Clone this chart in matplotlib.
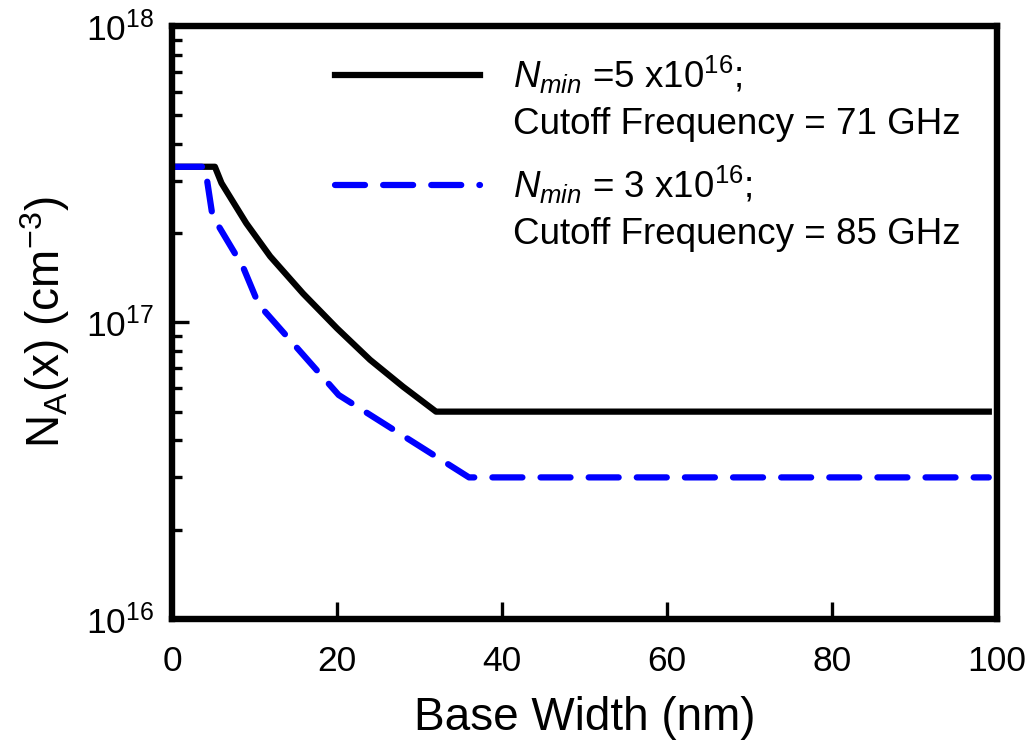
import matplotlib
matplotlib.use('Agg')
import matplotlib.pyplot as plt
from matplotlib.lines import Line2D
from matplotlib.ticker import FixedLocator, LogLocator, NullFormatter, NullLocator

# Doping profiles
x_nmin5 = [0, 5.2, 6.0, 9.0, 11.9, 15.9, 20.0, 24.0, 28.0, 32.0, 99]
na_nmin5 = [3.35e17, 3.35e17, 2.95e17, 2.16e17, 1.67e17, 1.25e17, 9.55e16, 7.48e16, 6.07e16, 5.0e16, 5.0e16]

x_nmin3 = [0, 4.0, 4.9, 8.6, 10.5, 20.2, 36.0, 99]
na_nmin3 = [3.35e17, 3.35e17, 2.29e17, 1.54e17, 1.15e17, 5.69e16, 3.0e16, 3.0e16]

label_nmin5 = [r'$N_{min}$ =5 x10$^{16}$;', 'Cutoff Frequency = 71 GHz']
label_nmin3 = [r'$N_{min}$ = 3 x10$^{16}$;', 'Cutoff Frequency = 85 GHz']

plt.rcParams['font.family'] = ['Liberation Sans', 'DejaVu Sans']
plt.rcParams['mathtext.fontset'] = 'custom'
plt.rcParams['mathtext.rm'] = 'Liberation Sans'
plt.rcParams['mathtext.it'] = 'Liberation Sans:italic'

fig = plt.figure(figsize=(10.3, 7.42), dpi=100)
ax = fig.add_axes([0.167, 0.166, 0.801, 0.799])

blk, = ax.plot(x_nmin5, na_nmin5, color='black', lw=4.5)
blu, = ax.plot(x_nmin3, na_nmin3, color='#0000ff', lw=4.5, dashes=(4.8, 2.9),
               dash_capstyle='round')

ax.set_yscale('log')
ax.set_xlim(0, 100)
ax.set_ylim(1e16, 1e18)

ax.xaxis.set_major_locator(FixedLocator([0, 20, 40, 60, 80, 100]))
ax.xaxis.set_minor_locator(NullLocator())
ax.yaxis.set_major_locator(FixedLocator([1e16, 1e17, 1e18]))
ax.yaxis.set_minor_locator(LogLocator(base=10, subs=range(2, 10)))
ax.yaxis.set_minor_formatter(NullFormatter())
ax.set_yticklabels([r'10$^{16}$', r'10$^{17}$', r'10$^{18}$'])

ax.tick_params(axis='x', which='major', direction='in', length=12.5, width=2.4,
               labelsize=25.5, pad=19, top=False)
ax.tick_params(axis='y', which='major', direction='in', length=12.5, width=2.4,
               labelsize=25.5, pad=13, right=False)
ax.tick_params(axis='y', which='minor', direction='in', length=7, width=2.4,
               right=False)

for s in ax.spines.values():
    s.set_linewidth(4.6)

ax.set_xlabel('Base Width (nm)', fontsize=33, labelpad=13)
ax.set_ylabel(r'N$_\mathregular{A}$(x) (cm$^{-3}$)', fontsize=33, labelpad=10)

# two-line legend entries: handle next to the first line only
blank = Line2D([], [], color='none')
leg_kw = dict(loc='upper left', frameon=False, borderpad=0, borderaxespad=0,
              fontsize=26.5, handlelength=3.94, handletextpad=0.9,
              labelspacing=0.3)
leg1 = ax.legend([blk, blank], label_nmin5, bbox_to_anchor=(0.1976, 0.953), **leg_kw)
ax.add_artist(leg1)
ax.legend([blu, blank], label_nmin3, bbox_to_anchor=(0.1976, 0.768), **leg_kw)

plt.savefig('out.png')
